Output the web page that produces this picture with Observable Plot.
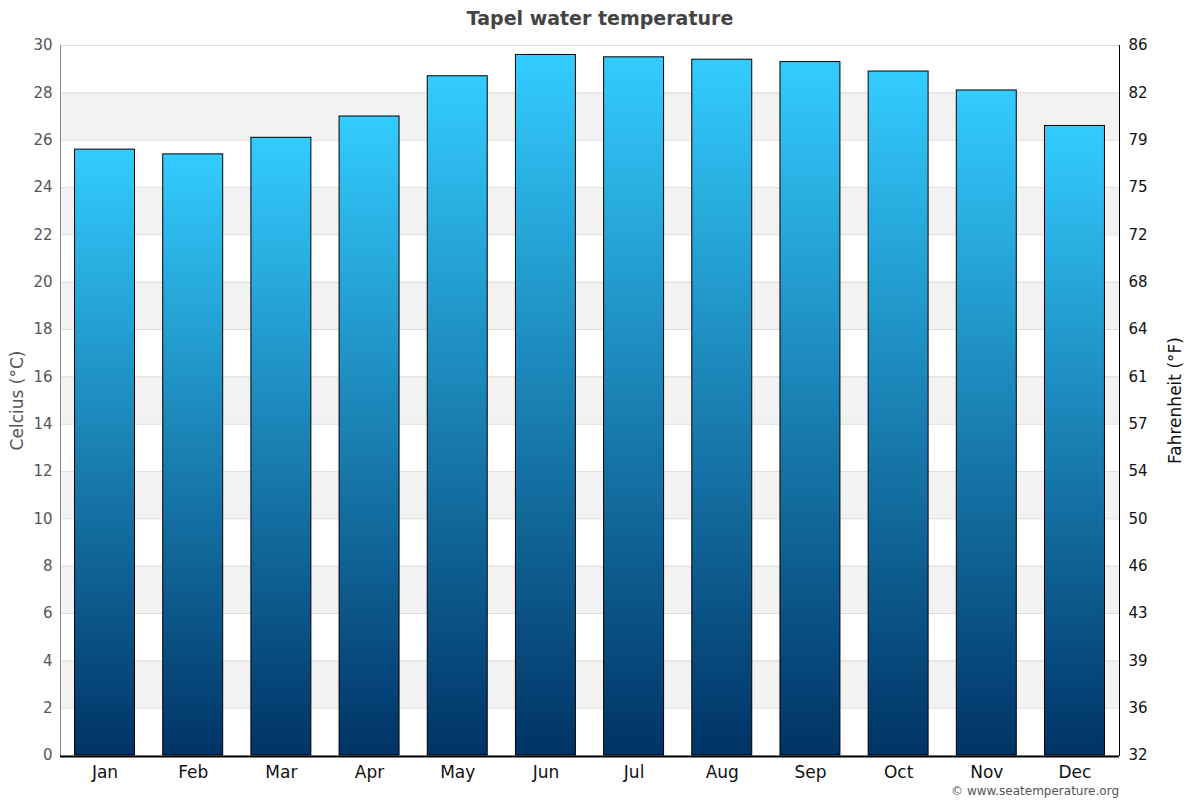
<!DOCTYPE html>
<html>
<head>
<meta charset="utf-8">
<script src="https://cdn.jsdelivr.net/npm/d3@7"></script>
<script src="https://cdn.jsdelivr.net/npm/@observablehq/plot@0.6"></script>
<style>
  html, body { margin: 0; padding: 0; background: #fff; }
  #wrap { position: relative; width: 1200px; height: 800px; font-family: "DejaVu Sans", sans-serif; }
  #title { position: absolute; top: 7px; left: 0; width: 1200px; text-align: center; font-weight: bold; font-size: 19px; color: #444; }
  #caption { position: absolute; top: 784px; right: 81px; font-size: 12px; color: #555; }
  #chart svg { display: block; }
</style>
</head>
<body>
<div id="wrap">
  <div id="chart"></div>
  <div id="title">Tapel water temperature</div>
  <div id="caption">© www.seatemperature.org</div>
</div>
<script>
const months = ["Jan", "Feb", "Mar", "Apr", "May", "Jun", "Jul", "Aug", "Sep", "Oct", "Nov", "Dec"];
const waterC = [25.6, 25.4, 26.1, 27.0, 28.7, 29.6, 29.5, 29.4, 29.3, 28.9, 28.1, 26.6];
const celsiusTicks = [0, 2, 4, 6, 8, 10, 12, 14, 16, 18, 20, 22, 24, 26, 28, 30];
const fahrenheitLabels = ["32", "36", "39", "43", "46", "50", "54", "57", "61", "64", "68", "72", "75", "79", "82", "86"];
const shadedBandStarts = [2, 6, 10, 14, 18, 22, 26];
const leftAxisTitle = "Celcius (°C)";
const rightAxisTitle = "Fahrenheit (°F)";

const data = months.map((m, i) => ({month: m, temp: waterC[i]}));

const defs = () => {
  const g = d3.create("svg:defs");
  const lg = g.append("linearGradient")
    .attr("id", "barGrad")
    .attr("x1", 0).attr("y1", 0).attr("x2", 0).attr("y2", 1);
  lg.append("stop").attr("offset", "0%").attr("stop-color", "#33ccff");
  lg.append("stop").attr("offset", "100%").attr("stop-color", "#003366");
  return g.node();
};

const chart = Plot.plot({
  width: 1200,
  height: 800,
  marginTop: 45,
  marginBottom: 45,
  marginLeft: 60,
  marginRight: 81,
  style: {fontFamily: "DejaVu Sans, sans-serif", fontSize: "15px", background: "transparent"},
  x: {domain: months, paddingInner: 0.32, paddingOuter: 0.165, round: false, label: null},
  y: {domain: [0, 30], label: null},
  marks: [
    defs,
    Plot.rect(shadedBandStarts, {y1: d => d, y2: d => d + 2, fill: "#f2f2f2"}),
    Plot.ruleY(celsiusTicks, {stroke: "#dddddd", strokeWidth: 1}),
    Plot.barY(data, {x: "month", y: "temp", fill: "url(#barGrad)", stroke: "black", strokeWidth: 1}),
    Plot.frame({anchor: "left", stroke: "#888"}),
    Plot.frame({anchor: "right", stroke: "black"}),
    Plot.ruleY([0], {stroke: "black", strokeWidth: 2, dy: 1}),
    Plot.axisY({ticks: celsiusTicks, tickSize: 0, tickPadding: 8, color: "#555", label: null, fontSize: 15}),
    Plot.axisY({
      anchor: "right", ticks: celsiusTicks, tickSize: 0, tickPadding: 9, color: "#111",
      tickFormat: d => fahrenheitLabels[celsiusTicks.indexOf(d)], label: null, fontSize: 15
    }),
    Plot.axisX({tickSize: 0, tickPadding: 10, fontSize: 17, color: "#111", label: null}),
    Plot.text([leftAxisTitle], {frameAnchor: "left", text: d => d, rotate: -90, dx: -43, textAnchor: "middle", fontSize: 17, fill: "#555"}),
    Plot.text([rightAxisTitle], {frameAnchor: "right", text: d => d, rotate: -90, dx: 56, textAnchor: "middle", fontSize: 17, fill: "#111"})
  ]
});
document.getElementById("chart").appendChild(chart);
</script>
</body>
</html>
